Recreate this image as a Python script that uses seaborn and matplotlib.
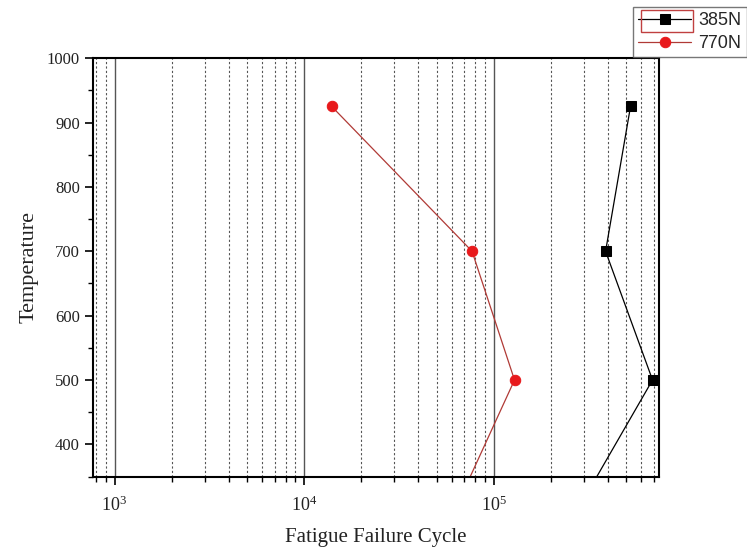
import matplotlib
matplotlib.use("Agg")
import matplotlib.pyplot as plt
import seaborn as sns
import numpy as np
import pandas as pd
from matplotlib.ticker import LogLocator, NullFormatter, MultipleLocator
from matplotlib.patches import Rectangle

# Data
temp_385 = [925, 700, 500, 300]
cycles_385 = [528000, 390000, 690000, 280000]
temp_770 = [925, 700, 500, 300]
cycles_770 = [14000, 77000, 129000, 63000]
labels = ["385N", "770N"]

sns.set_theme(style="white")
plt.rcParams['font.family'] = ['Liberation Serif', 'DejaVu Serif']
plt.rcParams['mathtext.fontset'] = 'custom'
plt.rcParams['mathtext.rm'] = 'Liberation Serif'
plt.rcParams['mathtext.it'] = 'Liberation Serif:italic'

fig = plt.figure(figsize=(7.47, 5.49), dpi=100)
ax = fig.add_axes([0.1245, 0.132, 0.7575, 0.762])

sns.lineplot(x=cycles_385, y=temp_385, sort=False, estimator=None, ax=ax,
             color='black', linewidth=0.9, marker='s', markersize=6.5,
             markerfacecolor='black', markeredgecolor='black', label=labels[0])
sns.lineplot(x=cycles_770, y=temp_770, sort=False, estimator=None, ax=ax,
             color='#b03a36', linewidth=0.9, marker='o', markersize=7.5,
             markerfacecolor='#e8191c', markeredgecolor='#e8191c', label=labels[1])

ax.set_xscale('log')
ax.set_xlim(770, 745000)
ax.set_ylim(350, 1000)

ax.xaxis.set_major_locator(LogLocator(base=10, numticks=10))
ax.xaxis.set_minor_locator(LogLocator(base=10, subs=np.arange(2, 10), numticks=20))
ax.xaxis.set_minor_formatter(NullFormatter())
ax.yaxis.set_major_locator(MultipleLocator(100))
ax.yaxis.set_minor_locator(MultipleLocator(50))

ax.grid(True, which='major', axis='x', color='#555555', linewidth=1.0, linestyle='-')
ax.grid(True, which='minor', axis='x', color='#555555', linewidth=0.8, linestyle=(0, (2, 2)))
ax.grid(False, axis='y')
ax.set_axisbelow(True)

for s in ax.spines.values():
    s.set_visible(True)
    s.set_color('black')
    s.set_linewidth(1.5)

ax.tick_params(axis='both', which='major', direction='out', length=6, width=1.2,
               colors='black', bottom=True, left=True)
ax.tick_params(axis='y', which='major', labelsize=12, labelcolor='#222222')
ax.tick_params(axis='x', which='major', labelsize=13, labelcolor='#222222', pad=8)
ax.tick_params(axis='both', which='minor', direction='out', length=3.5, width=1.0,
               colors='black', bottom=True, left=True)

ax.set_xlabel('Fatigue Failure Cycle', fontsize=15, labelpad=9, color='#222222')
ax.set_ylabel('Temperature', fontsize=16, labelpad=6, color='#222222')

leg = ax.legend(loc='upper left', bbox_to_anchor=(633 / 747, 1 - 7 / 549), bbox_transform=fig.transFigure,
                frameon=True, fancybox=False, prop={'family': 'Liberation Sans', 'size': 13},
                handlelength=2.9, borderpad=0.3, labelspacing=0.3, handletextpad=0.4,
                borderaxespad=0.0)
leg.get_frame().set_edgecolor('#555555')
leg.get_frame().set_linewidth(1.0)

fig.canvas.draw()
renderer = fig.canvas.get_renderer()
fb = leg.get_frame().get_window_extent(renderer)
tb = leg.get_texts()[0].get_window_extent(renderer)
# selection box around the first legend entry's symbol, as in the original
x0 = fb.x0 + 8
x1 = tb.x0 - 5
yc = (tb.y0 + tb.y1) / 2
fig.patches.append(Rectangle((x0 / 747, (yc - 11) / 549), (x1 - x0) / 747, 22 / 549,
                             transform=fig.transFigure, fill=False,
                             edgecolor='#c04040', linewidth=1.0, zorder=10))

fig.savefig('out.png', dpi=100)
